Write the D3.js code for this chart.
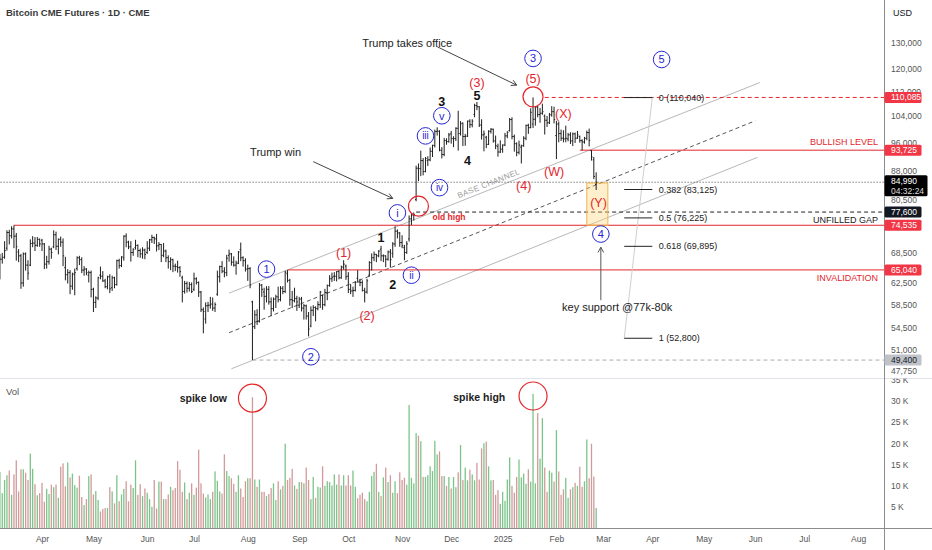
<!DOCTYPE html>
<html>
<head>
<meta charset="utf-8">
<script src="https://cdn.jsdelivr.net/npm/d3@7"></script>
<style>
  body { margin: 0; background: #fff; }
  svg { display: block; }
  svg text { font-family: "Liberation Sans", Arial, sans-serif; }
</style>
</head>
<body>
<svg id="chart" width="932" height="550"></svg>
<script>
// daily bars, CME BTC futures, prices in thousands of USD, volume in K contracts
const firstBar = '2024-03-06';

const opens = [
  64.0, 67.2, 67.6, 69.5, 72.9, 72.2, 73.7, 72.1, 68.7, 67.9, 62.5, 68.3, 66.0, 66.0, 70.5, 70.6, 70.1, 71.4,
  71.2, 70.4, 66.2, 66.7, 69.3, 69.8, 72.4, 69.9, 71.4, 70.8, 65.5, 64.1, 64.5, 61.9, 64.2, 65.3, 67.5, 67.1, 65.0, 65.2, 64.0, 64.5,
  61.3, 58.9, 59.7, 64.0, 63.8, 62.9, 61.8, 63.7, 61.6, 63.5, 62.2, 66.9, 65.9, 67.5, 72.1, 70.8, 69.8, 68.6, 69.6, 70.1, 69.0, 68.3, 69.1,
  68.6, 69.5, 71.3, 71.8, 71.5, 70.0, 70.3, 68.0, 68.9, 67.5, 66.7, 67.1, 65.8, 65.7, 65.5, 63.5, 60.9, 62.4, 61.5, 62.2,
  61.3, 63.3, 62.6, 60.8, 57.6, 56.0, 58.3, 58.4, 58.6, 57.9, 60.4, 63.7, 65.7, 64.8, 64.5, 68.0, 68.3, 66.6, 66.0, 66.4, 69.2, 67.5, 66.9,
  65.2, 65.3, 59.0, 54.7, 56.7, 55.6, 62.1, 60.8, 60.0, 61.3, 59.0, 57.8, 59.5, 59.9, 59.4, 61.5, 60.9, 64.3, 63.0, 59.4, 59.2, 59.6,
  58.4, 59.5, 57.9, 58.3, 56.5, 54.8, 57.5, 58.0, 57.8, 58.5, 60.2, 58.5, 60.7, 62.0, 63.3, 63.8, 63.8, 64.7, 63.5, 65.6, 65.8,
  63.8, 61.3, 61.0, 61.1, 63.4, 62.7, 62.6, 61.1, 60.8, 64.0, 66.5, 67.5, 68.2, 67.9, 69.3, 67.9, 67.9, 67.2, 68.7, 68.4, 70.4, 73.2, 72.8,
  70.7, 69.6, 68.6, 71.5, 76.0, 76.9, 80.6, 88.7, 88.6, 90.8, 87.8, 90.8, 91.0, 93.4, 95.1, 99.2, 99.2, 93.7, 92.5, 96.5, 96.2,
  98.5, 97.1, 97.1, 100.2, 98.6, 101.8, 97.7, 97.8, 102.4, 101.3, 104.5, 107.4, 107.0, 101.2, 98.2, 97.5, 95.4, 99.3, 99.9, 96.4, 94.8, 93.2,
  94.0, 95.2, 97.9, 99.5, 102.9, 97.7, 95.6, 93.1, 94.6, 95.0, 97.2, 101.1, 100.4, 101.5, 103.0, 106.9, 104.5, 104.9, 104.0, 102.7, 101.9, 104.4, 105.4,
  98.0, 101.5, 98.6, 97.2, 97.0, 97.0, 98.2, 96.4, 98.5, 97.2, 97.7, 96.5, 96.1, 97.2, 98.9, 93.6, 91.0, 84.4
];
const highs = [
  68.3, 68.5, 71.0, 73.4, 73.5, 74.3, 74.5, 72.8, 69.3, 68.3, 68.6, 68.6, 67.0, 71.4, 72.1, 71.9, 71.9, 71.6,
  71.5, 70.6, 67.9, 70.0, 69.6, 73.4, 73.1, 71.6, 72.0, 71.6, 67.7, 65.2, 65.0, 64.5, 65.3, 67.8, 67.9, 67.6, 65.8, 65.4, 64.9, 64.9,
  61.6, 60.0, 63.7, 65.7, 64.8, 63.3, 63.9, 64.2, 63.9, 63.7, 67.1, 67.3, 67.8, 72.3, 72.7, 71.1, 71.0, 69.5, 71.3, 70.3, 69.4, 69.7, 69.4,
  71.0, 71.5, 72.4, 72.0, 72.6, 70.8, 70.4, 70.6, 69.2, 68.0, 67.6, 67.3, 66.3, 66.9, 65.8, 63.9, 62.9, 62.8, 62.7, 62.6,
  64.5, 63.6, 62.8, 61.0, 58.0, 58.9, 59.0, 59.9, 59.8, 58.9, 64.9, 65.9, 66.8, 65.6, 68.1, 69.2, 68.5, 67.8, 66.9, 68.9, 70.7, 67.8, 67.4,
  66.1, 65.6, 59.2, 57.5, 57.7, 62.5, 62.3, 61.6, 61.9, 61.9, 59.8, 59.8, 60.3, 61.8, 61.9, 61.9, 64.9, 65.0, 63.3, 61.0, 61.6, 60.1,
  59.9, 59.9, 58.6, 58.5, 57.2, 58.2, 58.4, 58.2, 59.1, 61.0, 60.3, 61.4, 62.2, 64.0, 64.5, 64.6, 64.8, 65.0, 65.9, 67.0, 66.1,
  64.6, 62.3, 61.8, 62.8, 65.0, 63.3, 63.0, 61.6, 63.3, 66.8, 68.4, 68.8, 68.3, 69.1, 70.0, 68.2, 68.0, 69.0, 69.3, 70.8, 74.3, 73.6, 73.0,
  72.3, 70.2, 71.0, 76.8, 77.3, 77.5, 89.4, 90.0, 93.6, 91.5, 91.8, 92.0, 94.5, 95.3, 99.8, 100.5, 99.6, 94.6, 97.3, 97.2, 98.8,
  99.4, 97.8, 100.5, 105.7, 102.4, 102.0, 98.5, 102.6, 103.0, 103.0, 108.0, 108.6, 107.2, 103.0, 99.5, 97.9, 99.6, 100.3, 100.1, 98.0, 95.6, 96.6,
  95.4, 98.8, 99.3, 103.4, 103.6, 98.3, 96.0, 96.5, 95.3, 97.8, 101.3, 101.6, 106.5, 110.1, 107.1, 107.4, 106.6, 108.0, 104.5, 104.0, 105.0, 107.2, 107.0,
  102.5, 102.3, 99.8, 99.6, 101.0, 98.8, 99.0, 98.9, 98.9, 99.4, 98.0, 96.9, 97.6, 99.5, 100.1, 93.7, 91.8, 87.6
];
const lows = [
  63.2, 66.3, 67.3, 69.0, 70.3, 71.6, 69.5, 66.9, 66.6, 61.4, 61.8, 64.9, 63.1, 65.8, 69.7, 68.9, 69.8, 69.8,
  68.9, 65.2, 65.3, 66.1, 67.3, 69.5, 69.1, 68.2, 69.8, 65.8, 63.0, 62.4, 60.4, 61.2, 60.2, 64.9, 66.0, 64.4, 63.9, 64.0, 62.6, 59.8,
  57.2, 57.9, 59.3, 63.2, 62.7, 61.5, 61.3, 60.6, 61.0, 61.5, 62.0, 65.3, 65.6, 66.9, 69.7, 69.3, 66.7, 67.9, 69.2, 67.6, 67.5, 67.3, 67.2,
  68.3, 68.9, 70.6, 70.4, 68.8, 69.1, 66.6, 67.6, 66.6, 65.3, 65.0, 64.6, 64.8, 64.5, 63.7, 58.9, 60.5, 60.7, 60.9, 60.6,
  61.0, 62.2, 59.9, 57.2, 53.6, 55.2, 57.2, 57.8, 57.4, 57.2, 60.1, 62.6, 64.4, 63.6, 63.8, 66.7, 65.9, 65.7, 64.1, 66.2, 66.8, 65.7, 64.7,
  62.9, 61.5, 49.4, 54.3, 55.0, 55.4, 59.9, 57.6, 58.9, 58.5, 56.5, 57.3, 57.9, 58.9, 59.1, 60.4, 60.6, 62.6, 58.3, 57.9, 58.9, 57.4,
  57.9, 57.3, 55.9, 55.9, 53.1, 54.6, 56.5, 55.6, 57.5, 57.9, 57.6, 58.2, 59.3, 61.8, 62.7, 62.9, 62.8, 63.2, 63.3, 65.1, 63.1,
  60.6, 60.4, 59.9, 60.9, 62.6, 61.9, 60.9, 58.9, 60.5, 63.7, 64.9, 66.8, 66.6, 67.6, 66.8, 66.6, 65.6, 66.9, 65.5, 67.5, 69.8, 71.6, 69.8,
  69.5, 67.0, 68.3, 70.9, 74.6, 75.6, 80.2, 85.3, 86.6, 86.8, 87.6, 89.3, 90.6, 91.8, 94.5, 98.0, 93.4, 91.4, 92.0, 95.3, 95.9,
  95.6, 94.6, 96.4, 93.6, 98.0, 94.9, 95.0, 97.6, 100.3, 100.5, 103.6, 105.9, 100.6, 96.8, 93.4, 94.3, 95.2, 98.6, 95.9, 94.0, 91.9, 92.9,
  93.0, 94.9, 97.2, 99.2, 96.9, 93.3, 92.0, 92.5, 90.0, 94.7, 96.6, 98.5, 100.2, 100.3, 101.0, 103.6, 101.9, 104.4, 98.3, 100.6, 101.5, 103.8, 101.7,
  91.2, 96.0, 96.4, 96.0, 96.0, 96.3, 95.5, 94.9, 95.8, 97.0, 95.9, 93.7, 95.6, 96.6, 94.8, 90.8, 85.8, 83.0
];
const closes = [
  67.2, 67.6, 69.0, 72.9, 72.2, 73.7, 72.1, 69.8, 67.9, 62.5, 68.3, 66.0, 64.4, 70.5, 70.6, 70.1, 71.4, 70.4,
  70.4, 66.2, 66.7, 69.3, 68.6, 72.4, 69.9, 71.4, 70.8, 67.9, 64.1, 64.5, 61.9, 64.2, 64.5, 67.5, 67.1, 65.0, 65.2, 64.5, 64.5, 61.3,
  58.9, 59.7, 63.5, 63.8, 62.9, 61.8, 63.7, 61.4, 63.5, 62.2, 66.9, 65.9, 67.7, 72.1, 70.8, 69.8, 68.6, 69.2, 70.1, 69.0, 68.3, 69.1, 68.2,
  69.5, 71.3, 71.8, 71.5, 70.0, 70.3, 68.0, 68.9, 67.5, 66.7, 67.1, 65.8, 65.7, 65.5, 64.7, 60.9, 62.4, 61.5, 62.2, 60.9,
  63.3, 62.6, 60.8, 57.6, 57.3, 58.3, 58.4, 58.6, 57.9, 58.5, 63.7, 65.7, 64.8, 64.5, 67.4, 68.3, 66.6, 66.0, 66.4, 68.7, 67.5, 66.9, 65.2,
  65.3, 62.1, 54.7, 56.7, 55.6, 62.1, 61.3, 60.0, 61.3, 59.0, 57.8, 59.5, 59.9, 59.4, 61.5, 60.9, 64.6, 63.0, 59.4, 59.2, 59.6, 59.0,
  59.5, 57.9, 58.3, 56.5, 54.3, 57.5, 58.0, 57.8, 58.5, 60.8, 58.5, 60.7, 62.0, 63.3, 63.6, 63.8, 64.7, 63.5, 65.6, 66.2, 63.7,
  61.3, 61.0, 61.1, 62.6, 62.7, 62.6, 61.1, 60.8, 62.9, 66.5, 67.5, 68.2, 67.9, 68.9, 67.9, 67.9, 67.2, 68.7, 67.1, 70.4, 73.2, 72.8, 70.7,
  70.0, 68.6, 70.4, 76.0, 76.9, 77.0, 88.7, 88.6, 90.8, 87.8, 91.4, 91.0, 93.4, 95.1, 99.2, 99.5, 93.7, 92.5, 96.5, 96.2, 98.2,
  97.1, 97.1, 100.2, 98.6, 101.6, 97.7, 97.8, 102.4, 101.3, 102.4, 107.4, 107.0, 101.2, 98.2, 98.5, 95.4, 99.3, 99.9, 96.4, 95.0, 93.2, 94.0,
  95.2, 97.9, 99.0, 102.9, 97.7, 95.6, 93.1, 95.2, 95.0, 97.2, 101.1, 100.4, 105.2, 103.0, 106.9, 104.5, 104.9, 105.4, 102.7, 101.9, 104.4, 105.4, 102.9,
  101.5, 98.6, 97.2, 97.0, 97.2, 98.2, 96.4, 98.5, 97.2, 98.2, 96.5, 96.1, 97.2, 98.9, 96.6, 91.8, 86.5, 84.99
];
const volumes = [
  13.3, 8.3, 11.4, 12.5, 13.6, 7.9, 12.7, 16.0, 8.7, 13.9, 13.9, 13.1, 11.4, 17.6, 14.0, 10.4, 7.8, 8.3,
  10.7, 6.3, 9.3, 8.1, 10.3, 9.7, 10.3, 7.2, 14.5, 15.3, 9.9, 15.5, 12.0, 12.9, 10.2, 9.6, 12.4, 7.4, 5.5, 6.9, 12.3, 12.7,
  8.0, 8.8, 6.7, 4.0, 4.6, 4.8, 4.8, 9.7, 8.7, 5.9, 12.5, 6.4, 8.0, 9.3, 11.1, 6.4, 10.3, 9.5, 16.0, 7.9, 10.4, 7.6, 9.4,
  8.4, 6.9, 5.1, 11.4, 4.7, 11.0, 11.0, 6.9, 6.9, 8.0, 9.8, 9.0, 9.5, 15.8, 13.8, 8.6, 10.8, 6.9, 8.4, 10.6,
  7.9, 9.6, 18.5, 10.6, 8.2, 7.3, 8.0, 6.9, 8.6, 13.4, 11.2, 8.7, 8.2, 17.4, 13.5, 12.3, 11.8, 10.5, 8.6, 12.5, 9.4, 7.4, 11.1,
  11.8, 11.8, 30.8, 11.5, 9.8, 11.5, 8.6, 8.6, 7.6, 8.1, 9.5, 10.6, 6.7, 11.1, 9.2, 10.0, 19.9, 11.4, 11.9, 14.0, 10.1, 9.3,
  10.9, 10.9, 10.6, 14.3, 11.4, 6.9, 12.1, 7.2, 9.8, 9.6, 14.6, 10.0, 11.1, 10.9, 10.1, 12.7, 10.3, 12.7, 10.1, 12.5, 10.1,
  12.5, 10.1, 13.6, 9.8, 7.1, 7.9, 8.4, 6.9, 6.4, 8.6, 12.3, 13.3, 15.2, 8.6, 7.6, 12.0, 14.3, 10.9, 12.5, 8.4, 11.1, 8.3, 13.2,
  11.4, 11.9, 10.3, 29.0, 11.9, 10.6, 22.4, 21.8, 20.5, 12.1, 12.1, 12.5, 14.6, 13.5, 20.6, 17.4, 18.1, 12.3, 12.3, 10.0, 12.1,
  9.4, 12.1, 9.7, 13.2, 19.6, 11.4, 14.3, 11.3, 13.8, 12.7, 11.3, 15.4, 11.5, 18.8, 20.0, 20.4, 14.6, 11.3, 11.4, 7.9, 9.0, 5.8,
  8.6, 6.5, 11.5, 16.7, 10.0, 8.4, 12.1, 16.2, 12.0, 12.9, 10.5, 13.9, 11.0, 31.6, 10.6, 27.1, 16.4, 25.9, 14.3, 8.6, 13.6, 13.1, 11.0,
  23.1, 13.4, 7.9, 9.2, 11.9, 7.2, 9.2, 9.7, 10.7, 10.0, 14.5, 9.8, 11.1, 20.9, 11.8, 19.9, 12.2, 4.8
];

// axes
const monthTicks = ['2024-04', '2024-05', '2024-06', '2024-07', '2024-08', '2024-09', '2024-10', '2024-11', '2024-12',
  '2025-01', '2025-02', '2025-03', '2025-04', '2025-05', '2025-06', '2025-07', '2025-08'];
const monthLabels = ['Apr', 'May', 'Jun', 'Jul', 'Aug', 'Sep', 'Oct', 'Nov', 'Dec', '2025', 'Feb', 'Mar', 'Apr', 'May', 'Jun', 'Jul', 'Aug'];
const priceTicks = [130000, 120000, 112000, 104000, 96000, 88000, 80500, 68500, 62500, 58500, 54500, 51000, 47750];
const volTicks = [5, 10, 15, 20, 25, 30, 35];

// price tags on the right axis
const tagPrices = [110085, 93725, 84990, 77600, 74535, 65040, 49400];
const tagKinds = ['red', 'red', 'last', 'dark', 'red', 'red', 'gray'];
const countdown = '04:32:24';

// horizontal levels: price, start date, kind
const levelPrices = [74535, 65040, 93725, 77600, 110085, 49400, 84990];
const levelStarts = ['2024-03-14', '2024-08-26', '2025-02-17', '2024-11-11', '2025-01-27', '2024-08-05', '2024-03-05'];
const levelKinds = ['red', 'red', 'red', 'gap', 'redDash', 'grayDash', 'last'];
const levelNotes = [['BULLISH LEVEL', 93725, 'red', -1], ['UNFILLED GAP', 77600, 'black', 1], ['INVALIDATION', 65040, 'red', 1]];

// fibonacci retracement
const fibRatios = ['0', '0.382', '0.5', '0.618', '1'];
const fibPrices = [110040, 83125, 76225, 69895, 52800];
const fibSpan = ['2025-03-14', '2025-04-01'];

// channel lines [date, price] -> [date, price]
const channelFrom = [['2024-07-22', 60600], ['2024-07-22', 53700], ['2024-07-23', 48100]];
const channelTo = [['2025-06-04', 115200], ['2025-06-02', 102500], ['2025-06-03', 91700]];

// wave counts [label, date, price]
const circledWaves = [['1', '2024-08-13', 65200], ['2', '2024-09-09', 49900], ['3', '2025-01-20', 124000],
  ['4', '2025-02-28', 72560], ['5', '2025-04-07', 123600], ['i', '2024-10-30', 77400], ['ii', '2024-11-07', 64000],
  ['iii', '2024-11-15', 97900], ['iv', '2024-11-25', 83600], ['v', '2024-11-26', 104100]];
const redWaves = [['(1)', '2024-09-27', 68500], ['(2)', '2024-10-11', 56500], ['(3)', '2024-12-17', 114900],
  ['(4)', '2025-01-14', 84100], ['(5)', '2025-01-20', 116300], ['(W)', '2025-01-31', 87600],
  ['(X)', '2025-02-06', 104600], ['(Y)', '2025-02-27', 79700]];
const blackWaves = [['1', '2024-10-21', 71800], ['2', '2024-10-28', 62100], ['3', '2024-11-26', 108500],
  ['4', '2024-12-11', 90800], ['5', '2024-12-17', 110600]];

// notes and arrows
const notes = [['Trump takes office', '2024-10-09', 129900, 'start'], ['Trump win', '2024-08-02', 93200, 'start'],
  ['key support @77k-80k', '2025-03-11', 58000, 'middle']];
const arrowFrom = [['2024-11-22', 128500], ['2024-09-10', 90500], ['2025-02-28', 59300]];
const arrowTo = [['2025-01-09', 114300], ['2024-10-28', 80900], ['2025-02-28', 69700]];
const priceRings = [['2024-11-12', 79000], ['2025-01-20', 110300]];
const volRings = [['2024-08-05', 30.6], ['2025-01-20', 31.1]];
const volNotes = [['spike low', '2024-07-05', 30.7], ['spike high', '2024-12-18', 30.9]];
const zoneBox = { from: '2025-02-20', to: '2025-03-05', top: 84800, bottom: 74535 };

const RED = '#e3262b', BLUE = '#2626d4';
const plotRight = 884, priceBottom = 378, volBottom = 528.5;

// trading-day timeline (weekdays) so the x axis has no weekend gaps
const timeline = d3.utcDays(new Date(Date.UTC(2024, 2, 5)), new Date(Date.UTC(2025, 8, 1)))
  .filter((d) => d.getUTCDay() % 6 !== 0);
const fmt = d3.utcFormat('%Y-%m-%d');
const dayIndex = new Map(timeline.map((d, i) => [fmt(d), i]));
const at = (s) => dayIndex.get(s);

const start = at(firstBar);
const bars = closes.map((c, i) => ({
  i: start + i,
  o: opens[i] * 1000, h: highs[i] * 1000, l: lows[i] * 1000, c: c * 1000,
  v: volumes[i],
}));

const x = d3.scaleLinear().domain([1.035, 379.1]).range([0, plotRight]);
const y = d3.scaleLog().domain([46770, 148200]).range([priceBottom, 0]);
const yv = d3.scaleLinear().domain([0, 35]).range([volBottom, 379.4]);
const px = (d) => x(at(d));

const svg = d3.select('#chart');
const defs = svg.append('defs');
defs.append('clipPath').attr('id', 'pricePane').append('rect')
  .attr('x', 0).attr('y', 0).attr('width', plotRight).attr('height', priceBottom);
defs.append('clipPath').attr('id', 'volPane').append('rect')
  .attr('x', 0).attr('y', priceBottom + 0.5).attr('width', 932).attr('height', volBottom - priceBottom);

const price = svg.append('g').attr('clip-path', 'url(#pricePane)');
const vol = svg.append('g').attr('clip-path', 'url(#volPane)');

// channel
channelFrom.forEach((f, k) => {
  price.append('line')
    .attr('x1', px(f[0])).attr('y1', y(f[1]))
    .attr('x2', px(channelTo[k][0])).attr('y2', y(channelTo[k][1]))
    .attr('stroke', k === 1 ? '#555' : '#b8b8b8')
    .attr('stroke-width', 1)
    .attr('stroke-dasharray', k === 1 ? '4,3' : null);
});
{
  const [f, t] = [channelFrom[0], channelTo[0]];
  const ang = Math.atan2(y(t[1]) - y(f[1]), px(t[0]) - px(f[0])) * 180 / Math.PI;
  const cx = px('2024-12-25');
  const k = (cx - px(f[0])) / (px(t[0]) - px(f[0]));
  const cy = y(f[1]) + k * (y(t[1]) - y(f[1]));
  price.append('text')
    .attr('transform', `translate(${cx},${cy}) rotate(${ang}) translate(0,-3.5)`)
    .attr('text-anchor', 'middle')
    .attr('font-size', 8)
    .attr('letter-spacing', 0.4)
    .attr('fill', '#a0a0a0')
    .text('BASE CHANNEL');
}

// horizontal levels
const levelStyle = {
  red: [RED, null], redDash: [RED, '4,3'], gap: ['#222', '4,3'], grayDash: ['#aaa', '4,3'], last: ['#444', '1,2'],
};
levelPrices.forEach((p, k) => {
  const [col, dash] = levelStyle[levelKinds[k]];
  price.append('line')
    .attr('x1', px(levelStarts[k])).attr('x2', plotRight)
    .attr('y1', y(p)).attr('y2', y(p))
    .attr('stroke', col).attr('stroke-width', 1)
    .attr('stroke-dasharray', dash);
});
levelNotes.forEach(([t, p, col, side]) => {
  price.append('text')
    .attr('x', plotRight - 6).attr('y', y(p) + side * 8)
    .attr('text-anchor', 'end').attr('dominant-baseline', 'central')
    .attr('font-size', 9).attr('fill', col === 'red' ? RED : '#222')
    .text(t);
});
price.append('text')
  .attr('x', px('2024-11-20')).attr('y', y(76400))
  .attr('dominant-baseline', 'central')
  .attr('font-size', 8.5).attr('font-weight', 700).attr('fill', RED)
  .text('old high');

// zone box
price.append('rect')
  .attr('x', px(zoneBox.from)).attr('y', y(zoneBox.top))
  .attr('width', px(zoneBox.to) - px(zoneBox.from))
  .attr('height', y(zoneBox.bottom) - y(zoneBox.top))
  .attr('fill', 'rgba(255, 210, 110, 0.35)')
  .attr('stroke', '#f0b54a').attr('stroke-width', 1);

// fib retracement
const fx0 = px(fibSpan[0]), fx1 = px(fibSpan[1]);
price.append('line')
  .attr('x1', fx0).attr('y1', y(fibPrices[fibPrices.length - 1]))
  .attr('x2', fx1).attr('y2', y(fibPrices[0]))
  .attr('stroke', '#cfcfcf').attr('stroke-width', 1);
fibPrices.forEach((p, k) => {
  price.append('line')
    .attr('x1', fx0).attr('x2', fx1).attr('y1', y(p)).attr('y2', y(p))
    .attr('stroke', '#222').attr('stroke-width', 1);
  price.append('text')
    .attr('x', fx1 + 6.5).attr('y', y(p))
    .attr('dominant-baseline', 'central')
    .attr('font-size', 9).attr('fill', '#222')
    .text(`${fibRatios[k]} (${d3.format(',')(p)})`);
});

// OHLC bars
price.append('g')
  .selectAll('path')
  .data(bars)
  .join('path')
  .attr('d', (d) => {
    const cx = x(d.i);
    return `M${cx},${y(d.h)}V${y(d.l)}M${cx - 1.1},${y(d.o)}H${cx}M${cx},${y(d.c)}H${cx + 1.1}`;
  })
  .attr('fill', 'none')
  .attr('stroke', '#1e1e1e')
  .attr('stroke-width', 1);

// volume bars
vol.append('g')
  .selectAll('rect')
  .data(bars)
  .join('rect')
  .attr('x', (d) => x(d.i) - 0.65)
  .attr('width', 1.3)
  .attr('y', (d) => yv(d.v))
  .attr('height', (d) => volBottom - yv(d.v))
  .attr('fill', (d) => (d.c >= d.o ? '#7cc489' : '#d29a9a'));

// arrows
function arrow(g, x1, y1, x2, y2, col) {
  g.append('line').attr('x1', x1).attr('y1', y1).attr('x2', x2).attr('y2', y2)
    .attr('stroke', col).attr('stroke-width', 1);
  const a = Math.atan2(y2 - y1, x2 - x1);
  const s = 6, w = 0.5;
  g.append('path')
    .attr('d', `M${x2 - s * Math.cos(a - w)},${y2 - s * Math.sin(a - w)}L${x2},${y2}L${x2 - s * Math.cos(a + w)},${y2 - s * Math.sin(a + w)}`)
    .attr('fill', 'none').attr('stroke', col).attr('stroke-width', 1);
}
arrowFrom.forEach((f, k) => {
  arrow(price, px(f[0]), y(f[1]), px(arrowTo[k][0]), y(arrowTo[k][1]), k === 2 ? '#555' : '#444');
});
notes.forEach(([t, d, p, anchor]) => {
  price.append('text')
    .attr('x', px(d)).attr('y', y(p))
    .attr('text-anchor', anchor).attr('dominant-baseline', 'central')
    .attr('font-size', 11).attr('fill', '#222')
    .text(t);
});

// rings
priceRings.forEach(([d, p]) => {
  price.append('circle').attr('cx', px(d)).attr('cy', y(p)).attr('r', 10)
    .attr('fill', 'none').attr('stroke', RED).attr('stroke-width', 1.2);
});

// wave labels
circledWaves.forEach(([t, d, p]) => {
  const g = price.append('g').attr('transform', `translate(${px(d)},${y(p)})`);
  g.append('circle').attr('r', 8.3).attr('fill', 'none').attr('stroke', BLUE).attr('stroke-width', 1);
  g.append('text').attr('text-anchor', 'middle').attr('dominant-baseline', 'central')
    .attr('font-size', t.length > 1 ? 10 : 11).attr('fill', BLUE).text(t);
});
redWaves.forEach(([t, d, p]) => {
  price.append('text').attr('x', px(d)).attr('y', y(p))
    .attr('text-anchor', 'middle').attr('dominant-baseline', 'central')
    .attr('font-size', 12.5).attr('fill', RED).text(t);
});
blackWaves.forEach(([t, d, p]) => {
  price.append('text').attr('x', px(d)).attr('y', y(p))
    .attr('text-anchor', 'middle').attr('dominant-baseline', 'central')
    .attr('font-size', 12.5).attr('font-weight', 600).attr('fill', '#111').text(t);
});

// volume annotations
volRings.forEach(([d, v]) => {
  vol.append('circle').attr('cx', px(d)).attr('cy', yv(v)).attr('r', 14)
    .attr('fill', 'none').attr('stroke', RED).attr('stroke-width', 1.2);
});
volNotes.forEach(([t, d, v]) => {
  vol.append('text').attr('x', px(d)).attr('y', yv(v))
    .attr('text-anchor', 'middle').attr('dominant-baseline', 'central')
    .attr('font-size', 10.5).attr('font-weight', 600).attr('fill', '#222').text(t);
});
svg.append('text').attr('x', 6).attr('y', 391).attr('dominant-baseline', 'central')
  .attr('font-size', 9.5).attr('fill', '#555').text('Vol');

// frame lines
svg.append('line').attr('x1', 0).attr('x2', 932).attr('y1', priceBottom + 0.5).attr('y2', priceBottom + 0.5)
  .attr('stroke', '#e0e3eb');
svg.append('line').attr('x1', 0).attr('x2', 932).attr('y1', volBottom).attr('y2', volBottom)
  .attr('stroke', '#8c8c8c');
svg.append('line').attr('x1', plotRight + 0.5).attr('x2', plotRight + 0.5).attr('y1', 0).attr('y2', 550)
  .attr('stroke', '#8c8c8c');

// axes
const monthIdx = monthTicks.map((m) => timeline.findIndex((d) => fmt(d).startsWith(m)));
svg.append('g')
  .attr('transform', `translate(0,${volBottom})`)
  .call(d3.axisBottom(x).tickValues(monthIdx).tickFormat((d, i) => monthLabels[i]).tickSize(0).tickPadding(7))
  .call((g) => g.select('.domain').remove())
  .attr('font-family', '"Liberation Sans", Arial, sans-serif')
  .attr('font-size', 8.5)
  .selectAll('text').attr('fill', '#555');

svg.append('g')
  .attr('transform', `translate(${plotRight},0)`)
  .call(d3.axisRight(y).tickValues(priceTicks).tickFormat(d3.format(',')).tickSize(0).tickPadding(7))
  .call((g) => g.select('.domain').remove())
  .attr('font-family', '"Liberation Sans", Arial, sans-serif')
  .attr('font-size', 8.5)
  .selectAll('text').attr('fill', '#555');

svg.append('g')
  .attr('clip-path', 'url(#volPane)')
  .append('g')
  .attr('transform', `translate(${plotRight},0)`)
  .call(d3.axisRight(yv).tickValues(volTicks).tickFormat((d) => `${d} K`).tickSize(0).tickPadding(7))
  .call((g) => g.select('.domain').remove())
  .attr('font-family', '"Liberation Sans", Arial, sans-serif')
  .attr('font-size', 8.5)
  .selectAll('text').attr('fill', '#555');

// price tags
const tagStyle = { red: ['#f23645', '#fff'], last: ['#000', '#fff'], dark: ['#131722', '#fff'], gray: ['#bfc2c9', '#131722'] };
tagPrices.forEach((p, k) => {
  const [bg, fg] = tagStyle[tagKinds[k]];
  const two = tagKinds[k] === 'last';
  const ty = y(p);
  svg.append('rect')
    .attr('x', plotRight + 0.5).attr('y', two ? ty - 7 : ty - 5.5)
    .attr('width', two ? 43 : 37).attr('height', two ? 21 : 11)
    .attr('rx', 1.5).attr('fill', bg);
  svg.append('text')
    .attr('x', plotRight + 7).attr('y', two ? ty - 1.5 : ty)
    .attr('dominant-baseline', 'central')
    .attr('font-size', 8.5).attr('fill', fg)
    .text(d3.format(',')(p));
  if (two) {
    svg.append('text')
      .attr('x', plotRight + 7).attr('y', ty + 8.5)
      .attr('dominant-baseline', 'central')
      .attr('font-size', 8.5).attr('fill', '#ddd')
      .text(countdown);
  }
});

// header
svg.append('text').attr('x', 6).attr('y', 12.5).attr('dominant-baseline', 'central')
  .attr('font-size', 9.5).attr('font-weight', 600).attr('fill', '#3a3a3a')
  .text('Bitcoin CME Futures · 1D · CME');
svg.append('text').attr('x', 893).attr('y', 12.5).attr('dominant-baseline', 'central')
  .attr('font-size', 9).attr('fill', '#131722').text('USD');
</script>
</body>
</html>
